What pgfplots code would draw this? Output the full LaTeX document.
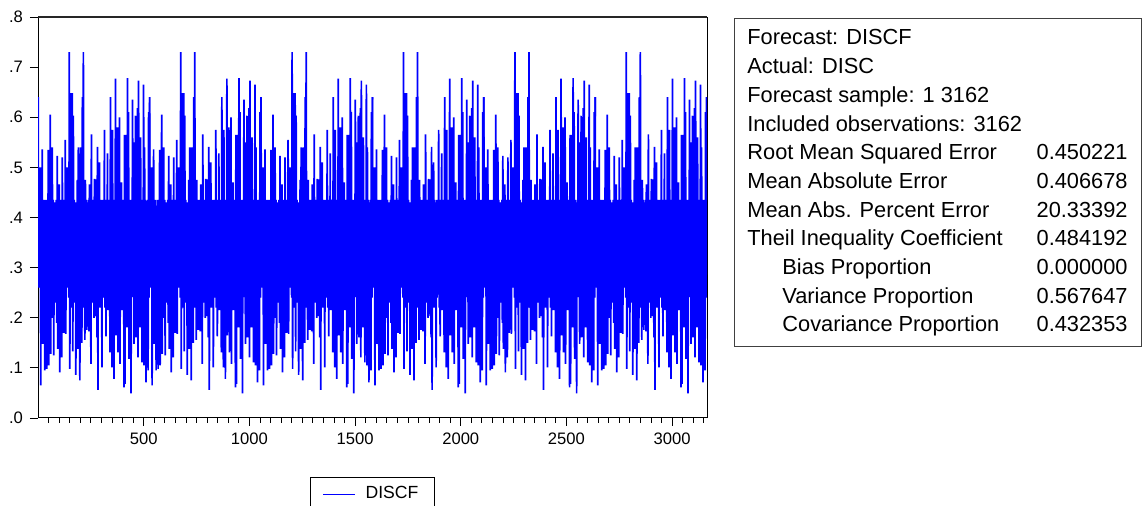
\documentclass[border=0pt]{standalone}
\usepackage{fontspec}
\setmainfont{Liberation Sans}
\usepackage{pgfplots}
\usepackage{pgfplotstable}
\pgfplotsset{compat=1.18}

% one cycle of DISCF (obs 1..527), read two values per pixel column;
% the series repeats this cycle six times (3162 = 6 x 527).
% last row = first value of the next cycle, so the copies join up
\pgfplotstableread[row sep=\\]{
y\\
.64\\ .26\\ .43\\ .27\\ .50\\ .065\\ .43\\ .22\\ .536\\ .148\\ .43\\ .25\\ .435\\ .095\\ .40\\ .28\\
.435\\ .098\\ .43\\ .24\\ .535\\ .105\\ .435\\ .26\\ .605\\ .128\\ .43\\ .20\\ .54\\ .27\\ .435\\ .125\\
.43\\ .26\\ .38\\ .23\\ .435\\ .19\\ .523\\ .138\\ .43\\ .27\\ .466\\ .091\\ .435\\ .25\\ .43\\ .121\\
.52\\ .27\\ .435\\ .17\\ .43\\ .24\\ .555\\ .168\\ .435\\ .29\\ .50\\ .26\\ .435\\ .24\\ .73\\ .098\\
.435\\ .25\\ .648\\ .22\\ .648\\ .133\\ .603\\ .27\\ .435\\ .23\\ .43\\ .086\\ .40\\ .26\\ .475\\ .138\\
.54\\ .25\\ .435\\ .075\\ .54\\ .24\\ .435\\ .15\\ .64\\ .27\\ .73\\ .22\\ .435\\ .156\\ .475\\ .26\\
.435\\ .176\\ .43\\ .24\\ .435\\ .173\\ .466\\ .25\\ .435\\ .108\\ .566\\ .26\\ .435\\ .23\\ .43\\ .20\\
.477\\ .27\\ .476\\ .203\\ .435\\ .161\\ .541\\ .056\\ .435\\ .25\\ .51\\ .22\\ .435\\ .26\\ .43\\ .101\\
.435\\ .24\\ .43\\ .268\\ .575\\ .22\\ .435\\ .163\\ .43\\ .25\\ .528\\ .215\\ .435\\ .26\\ .43\\ .131\\
.64\\ .24\\ .435\\ .101\\ .575\\ .26\\ .435\\ .078\\ .43\\ .25\\ .677\\ .165\\ .435\\ .23\\ .58\\ .131\\
.435\\ .26\\ .60\\ .108\\ .435\\ .24\\ .47\\ .215\\ .435\\ .25\\ .43\\ .061\\ .565\\ .068\\ .565\\ .25\\
.435\\ .181\\ .678\\ .24\\ .61\\ .118\\ .435\\ .26\\ .43\\ .049\\ .435\\ .25\\ .635\\ .241\\ .435\\ .148\\
.55\\ .26\\ .603\\ .161\\ .435\\ .24\\ .618\\ .121\\ .673\\ .25\\ .435\\ .181\\ .56\\ .26\\ .435\\ .111\\
.43\\ .24\\ .665\\ .105\\ .54\\ .148\\ .435\\ .071\\ .43\\ .25\\ .435\\ .095\\ .61\\ .24\\ .64\\
}\discf

\begin{document}
\begin{tikzpicture}
\useasboundingbox (-19pt,-44pt) rectangle (553pt,209pt);
\begin{axis}[
  at={(0pt,0pt)}, anchor=origin,
  scale only axis,
  width=334.5pt, height=200.5pt,
  xmin=0, xmax=3165, ymin=0, ymax=0.8,
  axis line style={line width=0.5pt},
  tick align=outside,
  xtick pos=bottom, ytick pos=left,
  xtick={500,1000,...,3000},
  minor xtick={50,100,...,3150},
  ytick={0,0.1,...,0.8},
  yticklabels={.0,.1,.2,.3,.4,.5,.6,.7,.8},
  major tick length=4pt, minor tick length=2.5pt,
  tick style={black, line width=0.4pt},
  ticklabel style={font=\fontsize{8.3}{10}\selectfont},
  /pgf/number format/assume math mode=true,
  xticklabel style={/pgf/number format/1000 sep={}},
  legend style={at={(0.5,0)}, anchor=north, yshift=-29.5pt,
    draw=black, line width=0.4pt,
    font=\fontsize{8.8}{10}\selectfont,
    inner xsep=6pt, inner ysep=2.5pt},
  legend image code/.code={\draw[#1, line width=0.5pt] (0pt,0pt) -- (16pt,0pt);},
  legend cell align=left,
  every axis plot/.append style={line join=bevel},
]
\addplot[blue, line width=0.85pt] table[x expr=1+\coordindex*2.374, y=y] {\discf};
\addlegendentry{\hspace{3pt}DISCF}
\pgfplotsinvokeforeach{1,...,5}{
  \addplot[blue, line width=0.85pt, forget plot] table[x expr=1+#1*527+\coordindex*2.374, y=y] {\discf};
}
\end{axis}
\draw[line width=0.8pt, black!85] (0pt,200.5pt) -- (334.5pt,200.5pt);

\draw[line width=0.5pt, black!75] (348pt,35.5pt) rectangle (551.5pt,199.5pt);
\begin{scope}[every node/.style={inner sep=0pt, font=\fontsize{10.9}{12}\selectfont}]
\node[anchor=base west] at (354.5pt,186.5pt) {Forecast: DISCF};
\node[anchor=base west] at (354.5pt,172.15pt) {Actual: DISC};
\node[anchor=base west] at (354.5pt,157.8pt) {Forecast sample: 1 3162};
\node[anchor=base west] at (354.5pt,143.45pt) {Included observations: 3162};
\node[anchor=base west] at (354.5pt,129.1pt) {Root Mean Squared Error};
\node[anchor=base west] at (354.5pt,114.75pt) {Mean Absolute Error};
\node[anchor=base west] at (354.5pt,100.4pt) {Mean Abs. Percent Error};
\node[anchor=base west] at (354.5pt,86.05pt) {Theil Inequality Coefficient};
\node[anchor=base west] at (372pt,71.7pt) {Bias Proportion};
\node[anchor=base west] at (372pt,57.35pt) {Variance Proportion};
\node[anchor=base west] at (372pt,43pt) {Covariance Proportion};
\node[anchor=base east] at (545pt,129.1pt) {0.450221};
\node[anchor=base east] at (545pt,114.75pt) {0.406678};
\node[anchor=base east] at (545pt,100.4pt) {20.33392};
\node[anchor=base east] at (545pt,86.05pt) {0.484192};
\node[anchor=base east] at (545pt,71.7pt) {0.000000};
\node[anchor=base east] at (545pt,57.35pt) {0.567647};
\node[anchor=base east] at (545pt,43pt) {0.432353};
\end{scope}
\end{tikzpicture}
\end{document}
